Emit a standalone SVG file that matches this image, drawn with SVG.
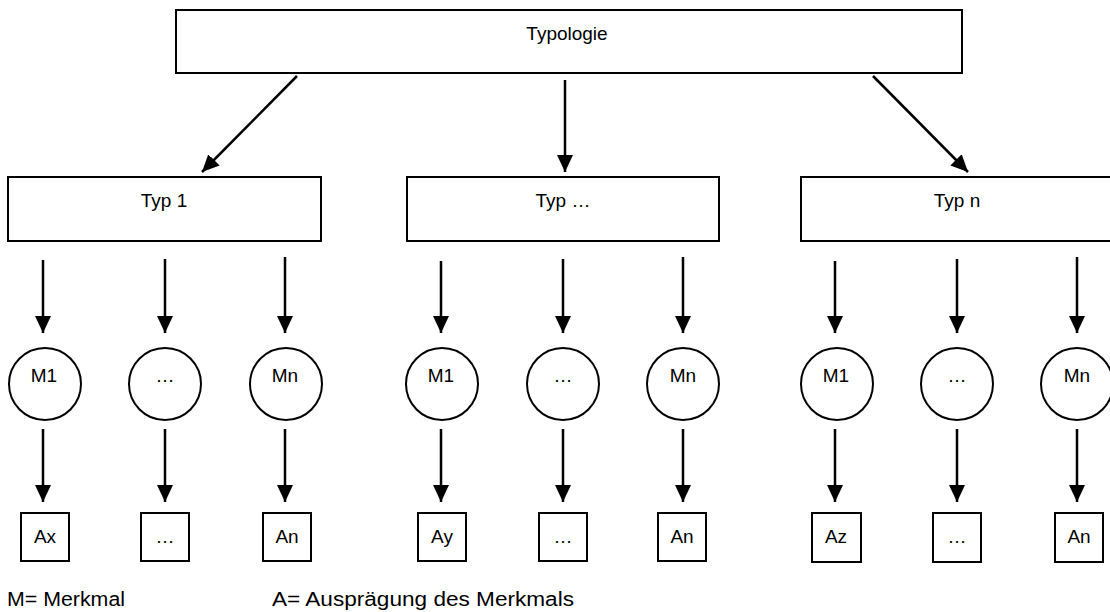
<svg xmlns="http://www.w3.org/2000/svg" width="1110" height="612" viewBox="0 0 1110 612">
  <style>
    .box { fill: #ffffff; stroke: #000000; stroke-width: 2; }
    .circ { fill: #ffffff; stroke: #000000; stroke-width: 2; }
    .lbl { font-family: "Liberation Sans", Arial, sans-serif; font-size: 19px; fill: #000000; text-anchor: middle; }
    .note { font-family: "Liberation Sans", Arial, sans-serif; font-size: 20px; fill: #000000; }
    .arr { stroke: #000000; stroke-width: 2.5; fill: none; marker-end: url(#head); }
  </style>
  <defs>
    <marker id="head" markerUnits="userSpaceOnUse" markerWidth="18" markerHeight="18" viewBox="0 0 18 16" refX="17" refY="8" orient="auto">
      <polygon points="0,0 17,8 0,16" fill="#000000"/>
    </marker>
  </defs>
  <rect width="1110" height="612" fill="#ffffff"/>

  <!-- connectors -->
  <g id="connectors">
    <!-- top level to types -->
    <line class="arr" x1="297" y1="76" x2="202" y2="172"/>
    <line class="arr" x1="565" y1="80" x2="565" y2="172"/>
    <line class="arr" x1="873" y1="76" x2="968" y2="172"/>
    <!-- types to features -->
    <line class="arr" x1="43" y1="260" x2="43" y2="333"/>
    <line class="arr" x1="165" y1="259" x2="165" y2="333"/>
    <line class="arr" x1="285" y1="257" x2="285" y2="333"/>
    <line class="arr" x1="441" y1="261" x2="441" y2="333"/>
    <line class="arr" x1="563" y1="259" x2="563" y2="333"/>
    <line class="arr" x1="683" y1="257" x2="683" y2="333"/>
    <line class="arr" x1="835" y1="261" x2="835" y2="333"/>
    <line class="arr" x1="957" y1="259" x2="957" y2="333"/>
    <line class="arr" x1="1077" y1="257" x2="1077" y2="333"/>
    <!-- features to values -->
    <line class="arr" x1="43" y1="429" x2="43" y2="502"/>
    <line class="arr" x1="165" y1="429" x2="165" y2="502"/>
    <line class="arr" x1="285" y1="429" x2="285" y2="502"/>
    <line class="arr" x1="441" y1="429" x2="441" y2="502"/>
    <line class="arr" x1="563" y1="429" x2="563" y2="502"/>
    <line class="arr" x1="683" y1="429" x2="683" y2="502"/>
    <line class="arr" x1="835" y1="429" x2="835" y2="502"/>
    <line class="arr" x1="957" y1="429" x2="957" y2="502"/>
    <line class="arr" x1="1077" y1="429" x2="1077" y2="502"/>
  </g>

  <!-- root -->
  <g id="typologie">
    <rect class="box" x="176" y="10" width="786" height="63"/>
    <text class="lbl" x="567" y="40">Typologie</text>
  </g>

  <!-- types -->
  <g id="typ-1">
    <rect class="box" x="8" y="177" width="313" height="64"/>
    <text class="lbl" x="164" y="207">Typ 1</text>
  </g>
  <g id="typ-mid">
    <rect class="box" x="407" y="177" width="312" height="64"/>
    <text class="lbl" x="563" y="207">Typ …</text>
  </g>
  <g id="typ-n">
    <rect class="box" x="801" y="177" width="320" height="64"/>
    <text class="lbl" x="957" y="207">Typ n</text>
  </g>

  <!-- features, type 1 -->
  <g id="t1-m1"><circle class="circ" cx="45" cy="384" r="36"/><text class="lbl" x="44" y="382">M1</text></g>
  <g id="t1-mx"><circle class="circ" cx="165" cy="384" r="36"/><text class="lbl" x="165" y="382">…</text></g>
  <g id="t1-mn"><circle class="circ" cx="286" cy="384" r="36"/><text class="lbl" x="285" y="382">Mn</text></g>
  <!-- features, middle type -->
  <g id="tm-m1"><circle class="circ" cx="442" cy="384" r="36"/><text class="lbl" x="441" y="382">M1</text></g>
  <g id="tm-mx"><circle class="circ" cx="563" cy="384" r="36"/><text class="lbl" x="563" y="382">…</text></g>
  <g id="tm-mn"><circle class="circ" cx="683" cy="384" r="36"/><text class="lbl" x="683" y="382">Mn</text></g>
  <!-- features, type n -->
  <g id="tn-m1"><circle class="circ" cx="837" cy="384" r="36"/><text class="lbl" x="836" y="382">M1</text></g>
  <g id="tn-mx"><circle class="circ" cx="957" cy="384" r="36"/><text class="lbl" x="957" y="382">…</text></g>
  <g id="tn-mn"><circle class="circ" cx="1077" cy="384" r="36"/><text class="lbl" x="1077" y="382">Mn</text></g>

  <!-- values, type 1 -->
  <g id="t1-ax"><rect class="box" x="21" y="513" width="48" height="48"/><text class="lbl" x="45" y="543">Ax</text></g>
  <g id="t1-ad"><rect class="box" x="141" y="513" width="48" height="48"/><text class="lbl" x="165" y="543">…</text></g>
  <g id="t1-an"><rect class="box" x="263" y="513" width="48" height="48"/><text class="lbl" x="287" y="543">An</text></g>
  <!-- values, middle type -->
  <g id="tm-ay"><rect class="box" x="418" y="513" width="48" height="48"/><text class="lbl" x="442" y="543">Ay</text></g>
  <g id="tm-ad"><rect class="box" x="539" y="513" width="48" height="48"/><text class="lbl" x="563" y="543">…</text></g>
  <g id="tm-an"><rect class="box" x="658" y="513" width="48" height="48"/><text class="lbl" x="682" y="543">An</text></g>
  <!-- values, type n -->
  <g id="tn-az"><rect class="box" x="812" y="513" width="49" height="49"/><text class="lbl" x="836" y="543">Az</text></g>
  <g id="tn-ad"><rect class="box" x="933" y="513" width="48" height="49"/><text class="lbl" x="957" y="543">…</text></g>
  <g id="tn-an"><rect class="box" x="1055" y="513" width="48" height="49"/><text class="lbl" x="1079" y="543">An</text></g>

  <!-- legend -->
  <g id="legend">
    <text class="note" x="7" y="606" textLength="118" lengthAdjust="spacingAndGlyphs">M= Merkmal</text>
    <text class="note" x="272" y="606" textLength="302" lengthAdjust="spacingAndGlyphs">A= Ausprägung des Merkmals</text>
  </g>
</svg>
